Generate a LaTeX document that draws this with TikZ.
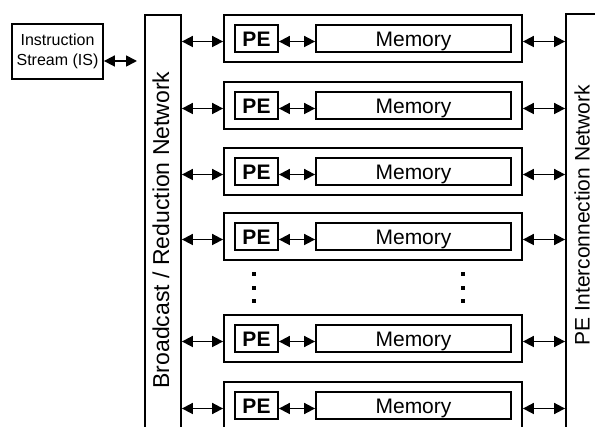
\documentclass[tikz,border=0pt]{standalone}
\usepackage{fontspec}
\setmainfont{Liberation Sans}
\usetikzlibrary{arrows.meta}
\begin{document}
\begin{tikzpicture}[x=1pt,y=-1pt,
  box/.style={draw,line width=1.8pt,rectangle,inner sep=0pt},
  unitbox/.style={box,minimum width=298pt,minimum height=47pt},
  pebox/.style={box,minimum width=43pt,minimum height=27pt,text height=17pt,text depth=0pt,font=\fontsize{21}{25}\selectfont\bfseries},
  membox/.style={box,minimum width=195pt,minimum height=27pt,text height=17pt,text depth=0pt,font=\fontsize{21}{25}\selectfont},
  netbox/.style={box},
  bi/.style={line width=1.7pt,{Triangle[length=11pt,width=11pt]}-{Triangle[length=11pt,width=11pt]}},
  dotmark/.style={fill=black}]
\useasboundingbox (0,0) rectangle (595,427);
\clip (0,0) rectangle (595,427);
% networks
\node[netbox,minimum width=36pt,minimum height=424pt] (bnet) at (163,227) {};
\node[rotate=90,font=\fontsize{23}{27}\selectfont] (btext) at (161,230) {Broadcast / Reduction Network};
\node[netbox,minimum width=33pt,minimum height=424pt] (inet) at (582.5,226) {};
\node[rotate=90,font=\fontsize{21}{25}\selectfont] (itext) at (582,215) {PE Interconnection Network};
% instruction stream
\node[box,minimum width=91pt,minimum height=55pt,align=center,font=\fontsize{16}{20}\selectfont] (is) at (57.5,51.5) {Instruction\\Stream (IS)};
\coordinate (isend) at (137,61);
\draw[bi] (is.east|-isend) -- (isend);
% units
\foreach \i/\t in {1/14,2/81,3/147,4/212,5/314,6/381}{
  \node[unitbox] (u\i) at (373,\t+24.5) {};
  \node[pebox] (pe\i) at (256.5,\t+24.5) {PE};
  \node[membox] (mem\i) at (413.5,\t+24.5) {Memory};
  \coordinate (r\i) at (0,\t+27.5);
  \draw[bi] (bnet.east|-r\i) -- (u\i.west|-r\i);
  \draw[bi] (pe\i.east|-r\i) -- (mem\i.west|-r\i);
  \draw[bi] (u\i.east|-r\i) -- (inet.west|-r\i);
}
% ellipsis dots
\foreach \y in {274,288,301}{
  \fill[dotmark] (252.3,\y-1.7) rectangle (255.7,\y+1.7);
  \fill[dotmark] (461.3,\y-1.7) rectangle (464.7,\y+1.7);
}
\end{tikzpicture}
\end{document}
